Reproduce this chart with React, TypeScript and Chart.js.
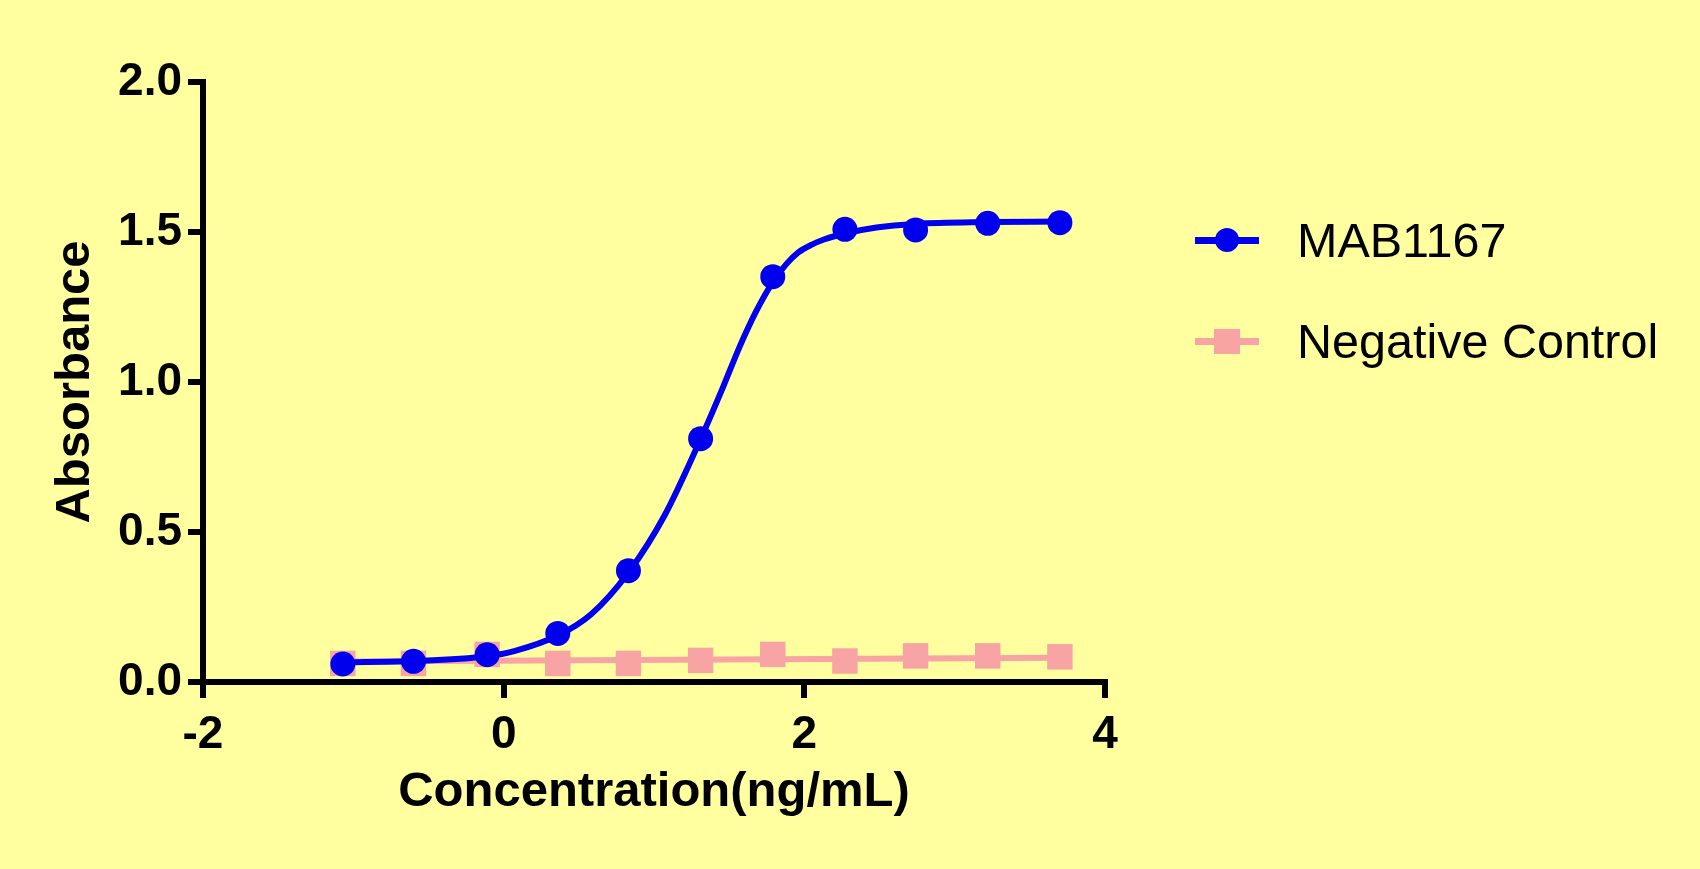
import { useEffect, useRef } from 'react'
import Chart from 'chart.js/auto'

// log10 concentration (ng/mL), 3-fold dilutions
const logConc = [-1.07, -0.6, -0.11, 0.36, 0.83, 1.31, 1.79, 2.27, 2.74, 3.22, 3.7]
const mab1167 = [0.06, 0.069, 0.091, 0.162, 0.371, 0.811, 1.351, 1.509, 1.507, 1.529, 1.531]
const negativeControl = [0.062, 0.062, 0.092, 0.062, 0.062, 0.072, 0.092, 0.07, 0.087, 0.087, 0.084]

// fitted curves
const mabFitX = [-1.07, -0.6, -0.11, 0.07, 0.36, 0.58, 0.83, 1.07, 1.31, 1.46, 1.57, 1.68, 1.79, 1.88, 1.96, 2.05, 2.13, 2.27, 2.48, 2.74, 3.22, 3.7]
const mabFitY = [0.066, 0.07, 0.086, 0.103, 0.155, 0.225, 0.365, 0.555, 0.81, 0.984, 1.118, 1.236, 1.333, 1.393, 1.432, 1.458, 1.475, 1.495, 1.515, 1.527, 1.533, 1.535]
const negFitX = [-1.07, 3.7]
const negFitY = [0.068, 0.081]

const xTicks = [-2, 0, 2, 4]
const yTicks = [0, 0.5, 1, 1.5, 2]

const BLUE = '#0000EE'
const PINK = '#F8A4A4'
const BG = '#FFFFA0'

const legendItems = [
  { label: 'MAB1167', color: BLUE, marker: 'circle', y: 240 },
  { label: 'Negative Control', color: PINK, marker: 'square', y: 341 },
]

const pts = (xs: number[], ys: number[]) => xs.map((x, i) => ({ x, y: ys[i] }))

export default function App() {
  const canvasRef = useRef<HTMLCanvasElement>(null)
  const chartRef = useRef<Chart | null>(null)

  useEffect(() => {
    if (!canvasRef.current) return
    if (chartRef.current) chartRef.current.destroy()

    const family = '"Liberation Sans", Arial, sans-serif'
    const tickFont = { family, size: 46, weight: 'bold' as const }
    const titleFont = { family, size: 49, weight: 'bold' as const }

    chartRef.current = new Chart(canvasRef.current, {
      type: 'scatter',
      data: {
        datasets: [
          {
            label: 'MAB1167',
            data: pts(logConc, mab1167),
            showLine: false,
            pointStyle: 'circle',
            pointRadius: 12.5,
            backgroundColor: BLUE,
            borderWidth: 0,
            order: 0,
          },
          {
            label: 'MAB1167 fit',
            data: pts(mabFitX, mabFitY),
            showLine: true,
            borderColor: BLUE,
            borderWidth: 6,
            pointRadius: 0,
            cubicInterpolationMode: 'monotone',
            order: 1,
          },
          {
            label: 'Negative Control',
            data: pts(logConc, negativeControl),
            showLine: false,
            pointStyle: 'rect',
            pointRadius: 18,
            backgroundColor: PINK,
            borderWidth: 0,
            order: 2,
          },
          {
            label: 'Negative Control fit',
            data: pts(negFitX, negFitY),
            showLine: true,
            borderColor: PINK,
            borderWidth: 6,
            pointRadius: 0,
            order: 3,
          },
        ],
      },
      options: {
        responsive: true,
        maintainAspectRatio: false,
        animation: false,
        layout: { padding: { left: 0, top: 82, right: 595, bottom: 0 } },
        plugins: {
          legend: { display: false },
          tooltip: { enabled: false },
        },
        scales: {
          x: {
            type: 'linear',
            min: -2,
            max: 4,
            afterBuildTicks: (s) => { s.ticks = xTicks.map((value) => ({ value })) },
            afterFit: (s) => { s.height = 187 },
            grid: { drawOnChartArea: false, color: '#000', lineWidth: 6, tickLength: 16 },
            border: { display: true, color: '#000', width: 6 },
            ticks: { color: '#000', font: tickFont, padding: 10, maxRotation: 0 },
            title: {
              display: true,
              text: 'Concentration(ng/mL)',
              color: '#000',
              font: titleFont,
              padding: { top: 0, bottom: 47 },
            },
          },
          y: {
            min: 0,
            max: 2,
            afterBuildTicks: (s) => { s.ticks = yTicks.map((value) => ({ value })) },
            afterFit: (s) => { s.width = 203 },
            grid: { drawOnChartArea: false, color: '#000', lineWidth: 6, tickLength: 15 },
            border: { display: true, color: '#000', width: 6 },
            ticks: {
              color: '#000',
              font: tickFont,
              padding: 6,
              callback: (v) => Number(v).toFixed(1),
            },
            title: {
              display: true,
              text: 'Absorbance',
              color: '#000',
              font: titleFont,
              padding: { top: 46, bottom: 0 },
            },
          },
        },
      },
    })

    return () => { chartRef.current?.destroy() }
  }, [])

  return (
    <div style={{ position: 'fixed', left: 0, top: 0, width: 1700, height: 869, background: BG }}>
      <canvas ref={canvasRef} />
      {legendItems.map((item) => (
        <div
          key={item.label}
          style={{
            position: 'absolute',
            left: 1195,
            top: item.y - 30,
            height: 60,
            display: 'flex',
            alignItems: 'center',
            fontFamily: '"Liberation Sans", Arial, sans-serif',
            fontSize: 48.5,
            lineHeight: 1,
            color: '#000',
            whiteSpace: 'nowrap',
          }}
        >
          <span style={{ position: 'relative', width: 64, height: 26, marginRight: 38, display: 'inline-block' }}>
            <span style={{ position: 'absolute', left: 0, right: 0, top: 10, height: 7, background: item.color }} />
            <span
              style={{
                position: 'absolute',
                left: item.marker === 'circle' ? 20 : 19,
                top: item.marker === 'circle' ? 1 : 0.5,
                width: item.marker === 'circle' ? 24 : 26,
                height: item.marker === 'circle' ? 24 : 25,
                borderRadius: item.marker === 'circle' ? '50%' : 0,
                background: item.color,
              }}
            />
          </span>
          <span>{item.label}</span>
        </div>
      ))}
    </div>
  )
}
